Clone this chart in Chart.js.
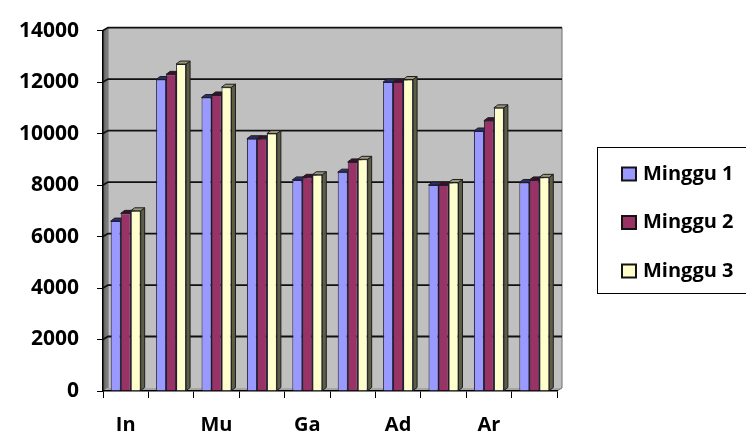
<!DOCTYPE html>
<html>
<head>
<meta charset="utf-8">
<script src="https://cdn.jsdelivr.net/npm/chart.js@4.4.1/dist/chart.umd.min.js"></script>
<style>
  html, body { margin: 0; padding: 0; background: #ffffff; }
  #wrap { width: 746px; height: 436px; position: relative; }
</style>
</head>
<body>
<div id="wrap"><canvas id="chart" width="746" height="436"></canvas></div>
<script>
// Weekly totals per item (only every other category name is printed on the axis)
const categories = ['In', '', 'Mu', '', 'Ga', '', 'Ad', '', 'Ar', ''];
const minggu1 = [6600, 12100, 11400, 9800, 8200, 8500, 12000, 8000, 10100, 8100];
const minggu2 = [6900, 12300, 11500, 9800, 8300, 8900, 12000, 8000, 10500, 8200];
const minggu3 = [7000, 12700, 11800, 10000, 8400, 9000, 12100, 8100, 11000, 8300];
const seriesNames = ['Minggu 1', 'Minggu 2', 'Minggu 3'];
const yTickValues = [0, 2000, 4000, 6000, 8000, 10000, 12000, 14000];

// Face colours for the pseudo-3D columns: front, right side, top
const faceColors = [
  { front: '#9999FF', side: '#4B4B80', top: '#2E2E6B' },
  { front: '#993366', side: '#4A1830', top: '#3E1026' },
  { front: '#FFFFCC', side: '#5E5E46', top: '#9C9878' }
];

const FONT = { family: '"Open Sans", "Liberation Sans", sans-serif', size: 20, weight: '700' };
const Y_FONT = Object.assign({}, FONT, { size: 21 });
const BAR_DEPTH = { x: 4, y: 3 };
const WALL_DEPTH = { x: 5, y: 3 };

// Back wall, side wall, floor and wall gridlines
const wallPlugin = {
  id: 'wall',
  beforeDraw(chart) {
    const { ctx, chartArea } = chart;
    const ys = chart.scales.y;
    const L = chartArea.left, R = chartArea.right;
    const T = ys.getPixelForValue(14000), B = ys.getPixelForValue(0);
    const dx = WALL_DEPTH.x, dy = WALL_DEPTH.y;
    ctx.save();
    // back wall
    ctx.fillStyle = '#C0C0C0';
    ctx.fillRect(L + dx, T - dy, R - L, B - T);
    // left side wall
    const g = ctx.createLinearGradient(L, 0, L + dx, 0);
    g.addColorStop(0, '#5A5A5A');
    g.addColorStop(1, '#8A8A8A');
    ctx.fillStyle = g;
    ctx.beginPath();
    ctx.moveTo(L, T); ctx.lineTo(L + dx, T - dy); ctx.lineTo(L + dx, B - dy); ctx.lineTo(L, B);
    ctx.closePath(); ctx.fill();
    // floor
    ctx.fillStyle = '#A6A6A6';
    ctx.beginPath();
    ctx.moveTo(L, B); ctx.lineTo(L + dx, B - dy); ctx.lineTo(R + dx, B - dy); ctx.lineTo(R, B);
    ctx.closePath(); ctx.fill();
    // outline of the wall
    ctx.strokeStyle = '#6E6E6E';
    ctx.lineWidth = 1;
    ctx.beginPath();
    ctx.moveTo(L + dx, B - dy); ctx.lineTo(L + dx, T - dy); ctx.lineTo(R + dx, T - dy); ctx.lineTo(R + dx, B - dy);
    ctx.lineTo(R, B);
    ctx.stroke();
    // gridlines on the back wall
    ctx.strokeStyle = '#101010';
    ctx.lineWidth = 1.8;
    yTickValues.forEach(v => {
      if (v === 0) return;
      const y = ys.getPixelForValue(v);
      ctx.beginPath();
      ctx.moveTo(L, y); ctx.lineTo(L + dx, y - dy); ctx.lineTo(R + dx, y - dy);
      ctx.stroke();
    });
    ctx.restore();
  }
};

// Side and top faces of every column, taken from the bar elements
const depthPlugin = {
  id: 'barDepth',
  beforeDatasetsDraw(chart) {
    const { ctx } = chart;
    const dx = BAR_DEPTH.x, dy = BAR_DEPTH.y;
    ctx.save();
    ctx.lineWidth = 1;
    ctx.strokeStyle = '#1E1E1E';
    chart.data.datasets.forEach((ds, di) => {
      const meta = chart.getDatasetMeta(di);
      meta.data.forEach(bar => {
        const { x, y, base, width } = bar.getProps(['x', 'y', 'base', 'width'], true);
        const l = x - width / 2, r = x + width / 2;
        // right side
        ctx.fillStyle = faceColors[di].side;
        ctx.beginPath();
        ctx.moveTo(r, y); ctx.lineTo(r + dx, y - dy); ctx.lineTo(r + dx, base - dy); ctx.lineTo(r, base);
        ctx.closePath(); ctx.fill(); ctx.stroke();
        // top
        ctx.fillStyle = faceColors[di].top;
        ctx.beginPath();
        ctx.moveTo(l, y); ctx.lineTo(l + dx, y - dy); ctx.lineTo(r + dx, y - dy); ctx.lineTo(r, y);
        ctx.closePath(); ctx.fill(); ctx.stroke();
      });
    });
    ctx.restore();
  }
};

// Boxed legend to the right of the plot
const legendBoxPlugin = {
  id: 'legendBox',
  afterDraw(chart) {
    const { ctx } = chart;
    ctx.save();
    ctx.strokeStyle = '#000000';
    ctx.lineWidth = 1;
    ctx.strokeRect(597.5, 147.5, 170, 146);
    ctx.font = `${FONT.weight} ${FONT.size}px ${FONT.family}`;
    ctx.textBaseline = 'middle';
    ctx.textAlign = 'left';
    chart.data.datasets.forEach((ds, i) => {
      const cy = 174 + i * 48.5;
      ctx.fillStyle = faceColors[i].front;
      ctx.fillRect(622, cy - 6.5, 14, 13);
      ctx.lineWidth = 2;
      ctx.strokeStyle = '#141414';
      ctx.strokeRect(622, cy - 6.5, 14, 13);
      ctx.fillStyle = '#000000';
      ctx.fillText(ds.label, 643, cy);
    });
    ctx.restore();
  }
};

Chart.defaults.font = FONT;
Chart.defaults.color = '#000000';

new Chart(document.getElementById('chart'), {
  type: 'bar',
  data: {
    labels: categories,
    datasets: [
      { label: seriesNames[0], data: minggu1 },
      { label: seriesNames[1], data: minggu2 },
      { label: seriesNames[2], data: minggu3 }
    ].map((d, i) => Object.assign(d, {
      backgroundColor: faceColors[i].front,
      borderColor: '#1E1E3A',
      borderWidth: 1,
      barPercentage: 1,
      categoryPercentage: 0.66
    }))
  },
  options: {
    responsive: false,
    animation: false,
    devicePixelRatio: 1,
    layout: { padding: { top: 18, right: 189, left: 0, bottom: 0 } },
    plugins: { legend: { display: false }, tooltip: { enabled: false } },
    scales: {
      x: {
        afterFit(scale) { scale.height = 45; },
        grid: { offset: true, drawOnChartArea: false, drawTicks: true, tickLength: 7, color: '#000000', lineWidth: 1 },
        border: { display: true, color: '#000000', width: 1.5 },
        ticks: { autoSkip: false, maxRotation: 0, padding: 15, font: FONT }
      },
      y: {
        min: 0,
        max: 14000,
        afterFit(scale) { scale.width = 103; },
        afterBuildTicks(scale) { scale.ticks = yTickValues.map(v => ({ value: v })); },
        grid: { drawOnChartArea: false, drawTicks: true, tickLength: 6, color: '#000000', lineWidth: 1 },
        border: { display: true, color: '#000000', width: 1.5 },
        ticks: { padding: 18, font: Y_FONT, callback: v => String(v) }
      }
    }
  },
  plugins: [wallPlugin, depthPlugin, legendBoxPlugin]
});
</script>
</body>
</html>
